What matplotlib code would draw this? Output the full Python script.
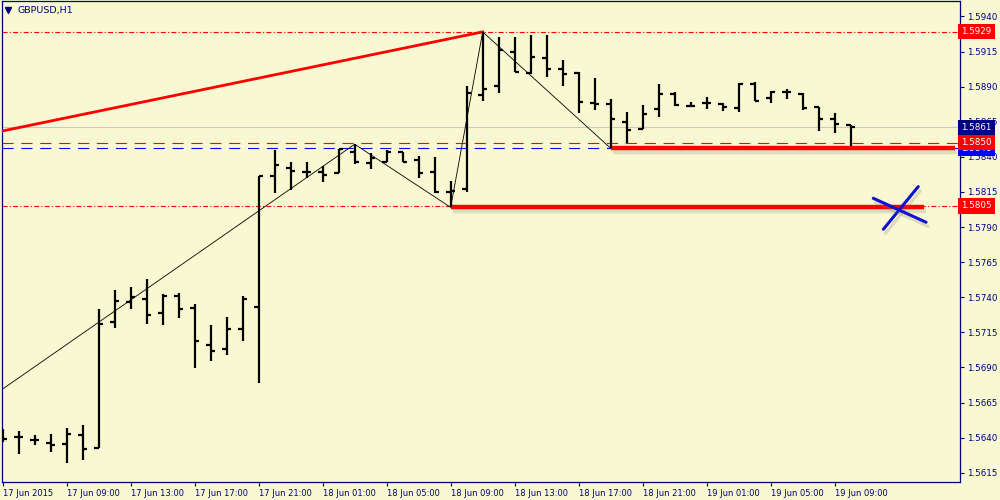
import numpy as np
import matplotlib
matplotlib.use('Agg')
import matplotlib.pyplot as plt
import matplotlib.patheffects as pe

# GBPUSD H1 bars, 17 Jun 05:00 .. 19 Jun 10:00
opens = [1.56400, 1.56402, 1.56381, 1.56364, 1.56352, 1.56416, 1.56326, 1.57221, 1.57368, 1.57385,
         1.57286, 1.57409, 1.57325, 1.57062, 1.57033, 1.57172, 1.57333, 1.58266, 1.58323, 1.58294,
         1.58294, 1.58283, 1.58433, 1.58354, 1.58366, 1.58437, 1.58378, 1.58290, 1.58152, 1.58169,
         1.58841, 1.58907, 1.59149, 1.58995, 1.59106, 1.59026, 1.58995, 1.58782, 1.58778, 1.58645,
         1.58600, 1.58739, 1.58848, 1.58765, 1.58782, 1.58777, 1.58750, 1.58917, 1.58817, 1.58860,
         1.58846, 1.58757, 1.58668, 1.58627]
highs = [1.56459, 1.56449, 1.56419, 1.56426, 1.56471, 1.56490, 1.57314, 1.57452, 1.57475, 1.57528,
         1.57423, 1.57432, 1.57350, 1.57202, 1.57257, 1.57409, 1.58266, 1.58449, 1.58361, 1.58361,
         1.58337, 1.58456, 1.58490, 1.58425, 1.58449, 1.58437, 1.58408, 1.58397, 1.58228, 1.58905,
         1.59290, 1.59256, 1.59256, 1.59268, 1.59268, 1.59090, 1.59002, 1.58960, 1.58814, 1.58718,
         1.58767, 1.58917, 1.58860, 1.58793, 1.58829, 1.58786, 1.58928, 1.58936, 1.58869, 1.58884,
         1.58853, 1.58757, 1.58715, 1.58627]
lows = [1.56371, 1.56285, 1.56350, 1.56300, 1.56221, 1.56240, 1.56324, 1.57183, 1.57314, 1.57207,
        1.57202, 1.57250, 1.56894, 1.56946, 1.56986, 1.57090, 1.56787, 1.58145, 1.58166, 1.58247,
        1.58219, 1.58283, 1.58347, 1.58311, 1.58366, 1.58366, 1.58247, 1.58145, 1.58040, 1.58152,
        1.58798, 1.58853, 1.59002, 1.58990, 1.58967, 1.58907, 1.58710, 1.58734, 1.58461, 1.58497,
        1.58597, 1.58686, 1.58765, 1.58762, 1.58739, 1.58729, 1.58718, 1.58798, 1.58782, 1.58810,
        1.58734, 1.58584, 1.58568, 1.58480]
closes = [1.56390, 1.56402, 1.56381, 1.56350, 1.56424, 1.56319, 1.57207, 1.57375, 1.57400, 1.57273,
          1.57409, 1.57316, 1.57086, 1.57019, 1.57176, 1.57385, 1.58266, 1.58340, 1.58299, 1.58294,
          1.58271, 1.58456, 1.58361, 1.58394, 1.58433, 1.58366, 1.58283, 1.58152, 1.58157, 1.58857,
          1.58884, 1.59161, 1.59007, 1.59114, 1.59024, 1.58990, 1.58789, 1.58777, 1.58666, 1.58594,
          1.58707, 1.58850, 1.58770, 1.58765, 1.58782, 1.58757, 1.58917, 1.58800, 1.58864, 1.58860,
          1.58750, 1.58668, 1.58632, 1.58610]

time_labels = ['17 Jun 2015', '17 Jun 09:00', '17 Jun 13:00', '17 Jun 17:00', '17 Jun 21:00',
               '18 Jun 01:00', '18 Jun 05:00', '18 Jun 09:00', '18 Jun 13:00', '18 Jun 17:00',
               '18 Jun 21:00', '19 Jun 01:00', '19 Jun 05:00', '19 Jun 09:00']
price_ticks = [1.5615, 1.5640, 1.5665, 1.5690, 1.5715, 1.5740, 1.5765, 1.5790,
               1.5815, 1.5840, 1.5865, 1.5890, 1.5915, 1.5940]

# drawn objects
zigzag_x = [-1, 22, 28, 30, 38]
zigzag_y = [1.56667, 1.58490, 1.58040, 1.59290, 1.58461]
trend_x = [-1, 30]
trend_y = [1.58561, 1.59290]
hi_level = 1.5929
lo_level = 1.5805
red_dash = 1.5850
blue_dash = 1.5846
bid = 1.5861
box1_x = [28, 57.6]
box1_y = 1.58045
box2_x = [38, 59.5]
box2_y = 1.58461
cross1_x = [55.04, 57.22]
cross1_y = [1.57884, 1.58188]
cross2_x = [54.41, 57.71]
cross2_y = [1.58105, 1.57934]

bg = '#F8F8D2'
navy = '#000080'

fig = plt.figure(figsize=(10, 5), dpi=100, facecolor=bg)
ax = fig.add_axes([0.002, 0.036, 0.958, 0.962], facecolor=bg)
ax.set_xlim(-0.04, 59.83)
ax.set_ylim(1.56084, 1.59510)

idx = np.arange(len(opens))
ax.vlines(idx, lows, highs, colors='black', lw=1.6, zorder=4)
ax.hlines(opens, idx - 0.27, idx, colors='black', lw=1.6, zorder=4)
ax.hlines(closes, idx, idx + 0.27, colors='black', lw=1.6, zorder=4)

# levels
ax.axhline(hi_level, color='red', lw=0.8, dashes=(4.5, 2, 1, 2), zorder=2)
ax.axhline(lo_level, color='red', lw=0.8, dashes=(4.5, 2, 1, 2), zorder=2)
ax.axhline(blue_dash, color='blue', lw=0.8, dashes=(10, 7), zorder=2)
ax.axhline(red_dash, color='red', lw=0.8, dashes=(10, 7), zorder=2)
ax.axhline(bid, color='#C8C8C8', lw=0.8, zorder=1)

shadow = [pe.SimpleLineShadow(offset=(1.5, -3), shadow_color='#777777', alpha=0.22), pe.Normal()]
ax.plot(zigzag_x, zigzag_y, color='black', lw=0.6, zorder=3)
ax.plot(trend_x, trend_y, color='red', lw=2.0, zorder=3)
ax.plot(box1_x, [box1_y, box1_y], color='red', lw=3.2, zorder=3, path_effects=shadow, solid_capstyle='butt')
ax.plot(box2_x, [box2_y, box2_y], color='red', lw=3.2, zorder=3, path_effects=shadow, solid_capstyle='butt')
ax.plot(cross1_x, cross1_y, color='#1010D0', lw=2.2, zorder=5, path_effects=shadow, solid_capstyle='round')
ax.plot(cross2_x, cross2_y, color='#1010D0', lw=2.2, zorder=5, path_effects=shadow, solid_capstyle='round')

# axes styling
for s in ax.spines.values():
    s.set_color(navy)
    s.set_linewidth(0.9)
ax.yaxis.tick_right()
ax.set_yticks(price_ticks)
ax.set_yticklabels(['%.4f' % p for p in price_ticks])
ax.set_xticks(np.arange(0, 4 * len(time_labels), 4))
ax.set_xticklabels(time_labels, ha='left')
ax.tick_params(axis='both', colors=navy, labelcolor=navy, labelsize=6.3, length=3, width=0.8, direction='out')
ax.tick_params(axis='y', pad=2)
ax.tick_params(axis='x', pad=2, labelsize=6)

# price boxes on the right scale
tr = ax.get_yaxis_transform()
def box(y, txt, fc):
    ax.text(1.0015, y, txt, transform=tr, ha='left', va='center', fontsize=6.3, color='white',
            bbox=dict(boxstyle='square,pad=0.35', fc=fc, ec='none'), clip_on=False, zorder=10)

box(1.5929, '1.5929', 'red')
box(1.5861, '1.5861', navy)
box(1.5846, '1.5846', 'blue')
box(1.5850, '1.5850', 'red')
box(1.5805, '1.5805', 'red')

# title
ax.plot([0.008], [0.98], marker='v', ms=4, color=navy, transform=fig.transFigure, clip_on=False)
fig.text(0.018, 0.979, 'GBPUSD,H1', fontsize=6.8, color=navy, ha='left', va='center')

fig.savefig('out.png', dpi=100, facecolor=bg)
